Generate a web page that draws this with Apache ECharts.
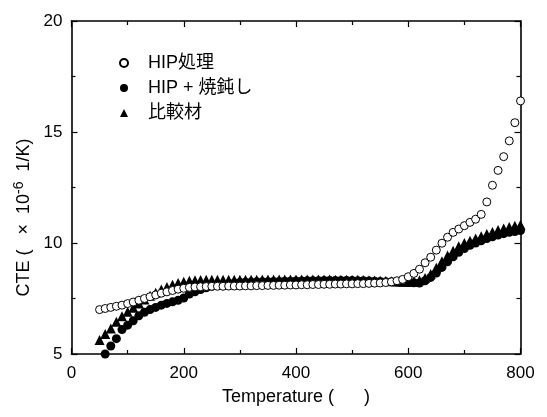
<!DOCTYPE html>
<html>
<head>
    <meta charset="utf-8" />
    <title>CTE vs Temperature</title>
    <script src="https://cdn.jsdelivr.net/npm/echarts@6/dist/echarts.min.js"></script>
    <style type="text/css">
        html, body { margin: 0; width: 100%; height: 100%; background: #fff; }
        #chart { width: 547px; height: 417px; }
    </style>
</head>
<body>
    <div id="chart"></div>
    <script>
        var FONT = 'Liberation Sans, Arial, Noto Sans CJK JP, sans-serif';

        // HIP処理 (open circles)
        var hipTemp = [50, 60, 70, 80, 90, 100, 110, 120, 130, 140, 150, 160, 170, 180, 190, 200,
            210, 220, 230, 240, 250, 260, 270, 280, 290, 300, 310, 320, 330, 340, 350, 360, 370, 380,
            390, 400, 410, 420, 430, 440, 450, 460, 470, 480, 490, 500, 510, 520, 530, 540, 550, 560,
            570, 580, 590, 600, 610, 620, 630, 640, 650, 660, 670, 680, 690, 700, 710, 720, 730, 740,
            750, 760, 770, 780, 790, 800];
        var hipCte = [7.00, 7.05, 7.10, 7.15, 7.20, 7.27, 7.34, 7.42, 7.50, 7.58, 7.66, 7.74, 7.80,
            7.86, 7.92, 7.96, 8.00, 8.02, 8.03, 8.04, 8.05, 8.05, 8.05, 8.06, 8.06, 8.06, 8.07, 8.07,
            8.08, 8.08, 8.09, 8.09, 8.10, 8.10, 8.11, 8.11, 8.12, 8.12, 8.13, 8.13, 8.14, 8.14, 8.15,
            8.15, 8.16, 8.16, 8.17, 8.17, 8.18, 8.19, 8.20, 8.22, 8.25, 8.30, 8.36, 8.48, 8.63, 8.82,
            9.11, 9.36, 9.68, 9.99, 10.26, 10.48, 10.63, 10.78, 10.93, 11.07, 11.29, 11.85, 12.60,
            13.27, 13.89, 14.60, 15.42, 16.40];

        // HIP + 焼鈍し (filled circles)
        var annealTemp = [60, 70, 80, 90, 100, 110, 120, 130, 140, 150, 160, 170, 180, 190, 200,
            210, 220, 230, 240, 250, 260, 270, 280, 290, 300, 310, 320, 330, 340, 350, 360, 370, 380,
            390, 400, 410, 420, 430, 440, 450, 460, 470, 480, 490, 500, 510, 520, 530, 540, 550, 560,
            570, 580, 590, 600, 610, 620, 630, 640, 650, 660, 670, 680, 690, 700, 710, 720, 730, 740,
            750, 760, 770, 780, 790, 800];
        var annealCte = [5.00, 5.36, 5.69, 6.10, 6.30, 6.50, 6.72, 6.88, 7.00, 7.10, 7.20, 7.28,
            7.35, 7.42, 7.52, 7.70, 7.80, 7.90, 7.98, 8.05, 8.10, 8.14, 8.17, 8.20, 8.22, 8.23, 8.24,
            8.25, 8.26, 8.26, 8.27, 8.27, 8.28, 8.28, 8.29, 8.29, 8.30, 8.30, 8.30, 8.31, 8.31, 8.31,
            8.31, 8.31, 8.31, 8.30, 8.30, 8.29, 8.28, 8.27, 8.26, 8.25, 8.24, 8.23, 8.22, 8.21, 8.20,
            8.30, 8.45, 8.65, 8.90, 9.15, 9.38, 9.58, 9.75, 9.90, 10.00, 10.10, 10.20, 10.28, 10.36,
            10.42, 10.48, 10.52, 10.56];

        // 比較材 (filled triangles)
        var refTemp = [50, 60, 70, 80, 90, 100, 110, 120, 130, 140, 150, 160, 170, 180, 190, 200,
            210, 220, 230, 240, 250, 260, 270, 280, 290, 300, 310, 320, 330, 340, 350, 360, 370, 380,
            390, 400, 410, 420, 430, 440, 450, 460, 470, 480, 490, 500, 510, 520, 530, 540, 550, 560,
            570, 580, 590, 600, 610, 620, 630, 640, 650, 660, 670, 680, 690, 700, 710, 720, 730, 740,
            750, 760, 770, 780, 790, 800];
        var refCte = [5.63, 5.90, 6.15, 6.45, 6.70, 6.90, 7.08, 7.27, 7.45, 7.62, 7.76, 7.90, 8.02,
            8.12, 8.20, 8.26, 8.30, 8.32, 8.33, 8.34, 8.34, 8.34, 8.34, 8.35, 8.35, 8.35, 8.35, 8.35,
            8.35, 8.36, 8.36, 8.36, 8.36, 8.36, 8.36, 8.36, 8.36, 8.36, 8.36, 8.36, 8.36, 8.36, 8.35,
            8.35, 8.35, 8.34, 8.34, 8.33, 8.32, 8.31, 8.30, 8.29, 8.28, 8.27, 8.26, 8.25, 8.26, 8.32,
            8.42, 8.60, 8.88, 9.18, 9.44, 9.65, 9.85, 10.00, 10.10, 10.20, 10.30, 10.40, 10.50, 10.58,
            10.65, 10.72, 10.78, 10.82];

        var xTicks = [0, 200, 400, 600, 800];
        var yTicks = [5, 10, 15, 20];

        function pairs(xs, ys) {
            return xs.map(function (x, i) { return [x, ys[i]]; });
        }

        var axisLine = { show: true, onZero: false, lineStyle: { color: '#000', width: 1.6 } };
        var tick = { show: true, inside: true, length: 6, lineStyle: { color: '#000', width: 1.2 } };
        var minor = { show: true, splitNumber: 2, length: 4, lineStyle: { color: '#000', width: 1.2 } };
        var noEmph = { disabled: true };

        var chart = echarts.init(document.getElementById('chart'));
        chart.setOption({
            animation: false,
            backgroundColor: '#fff',
            grid: { left: 71.5, right: 26.5, top: 21, bottom: 63 },
            legend: {
                orient: 'vertical',
                left: 114,
                top: 49,
                itemWidth: 8,
                itemHeight: 8,
                itemGap: 7,
                textStyle: { fontFamily: FONT, fontSize: 18, color: '#000', lineHeight: 18, padding: [0, 0, 0, 15] },
                data: ['HIP処理', 'HIP + 焼鈍し', '比較材']
            },
            xAxis: [{
                type: 'value', min: xTicks[0], max: xTicks[xTicks.length - 1], interval: 200,
                name: 'Temperature (      )', nameLocation: 'middle', nameGap: 34,
                nameTextStyle: { fontFamily: FONT, fontSize: 18, color: '#000' },
                axisLine: axisLine, axisTick: tick, minorTick: minor, splitLine: { show: false },
                axisLabel: { fontFamily: FONT, fontSize: 17, color: '#000', margin: 11 }
            }, {
                type: 'value', position: 'top', min: 0, max: 800, interval: 200,
                axisLine: axisLine, axisTick: tick, minorTick: minor, splitLine: { show: false },
                axisLabel: { show: false }
            }],
            yAxis: [{
                type: 'value', min: yTicks[0], max: yTicks[yTicks.length - 1], interval: 5,
                name: 'CTE (   ×  10{sup|-6}  1/K)            ', nameLocation: 'middle', nameGap: 36, nameRotate: 90,
                nameTextStyle: {
                    fontFamily: FONT, fontSize: 18, color: '#000',
                    rich: { sup: { fontFamily: FONT, fontSize: 14, color: '#000', verticalAlign: 'top', padding: [0, 0, 9, 0] } }
                },
                axisLine: axisLine, axisTick: tick, minorTick: minor, splitLine: { show: false },
                axisLabel: { fontFamily: FONT, fontSize: 17, color: '#000', margin: 9 }
            }, {
                type: 'value', position: 'right', min: 5, max: 20, interval: 5,
                axisLine: axisLine, axisTick: tick, minorTick: minor, splitLine: { show: false },
                axisLabel: { show: false }
            }],
            series: [{
                name: 'HIP処理', type: 'scatter', symbol: 'circle', symbolSize: 8,
                itemStyle: { color: '#fff', borderColor: '#000', borderWidth: 1, opacity: 1 },
                emphasis: noEmph, data: pairs(hipTemp, hipCte), z: 3
            }, {
                name: 'HIP + 焼鈍し', type: 'scatter', symbol: 'circle', symbolSize: 9,
                itemStyle: { color: '#000', opacity: 1 },
                emphasis: noEmph, data: pairs(annealTemp, annealCte), z: 2
            }, {
                name: '比較材', type: 'scatter', symbol: 'triangle', symbolSize: 10,
                itemStyle: { color: '#000', opacity: 1 },
                emphasis: noEmph, data: pairs(refTemp, refCte), z: 2
            }]
        });
    </script>
</body>
</html>
